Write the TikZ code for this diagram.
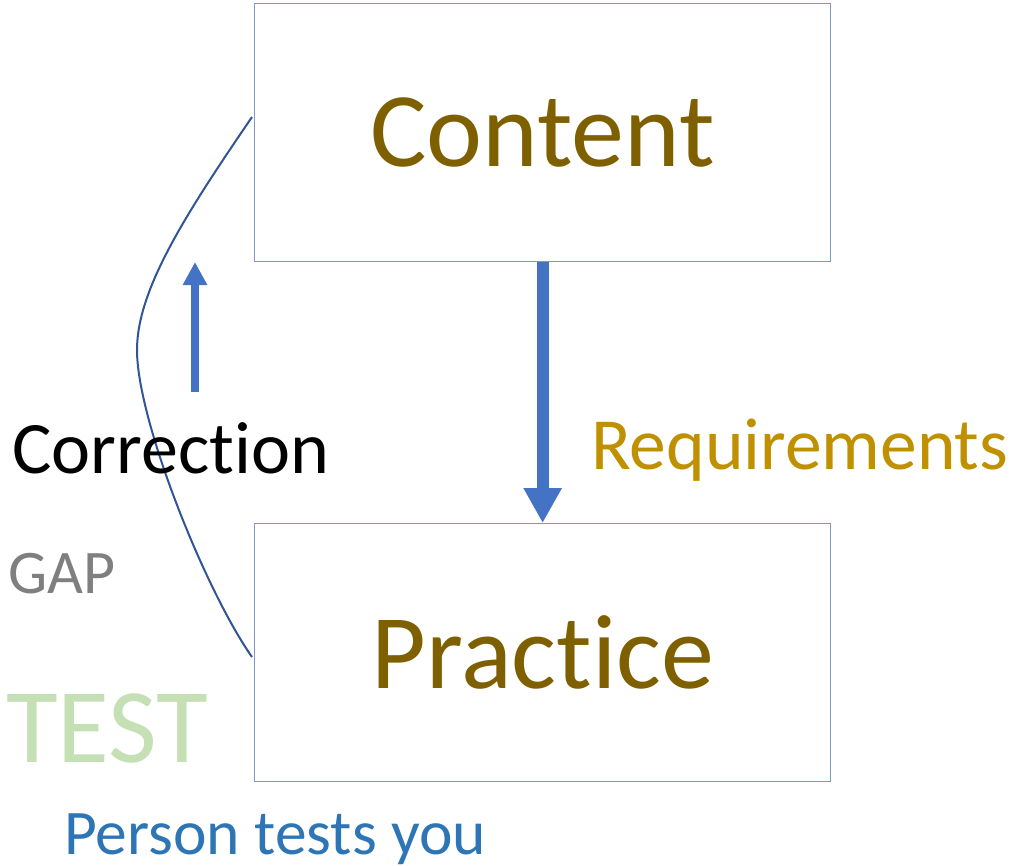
\documentclass[tikz,border=0pt]{standalone}
\usepackage{fontspec}
\setmainfont{Carlito}[Ligatures={NoCommon}]
\usetikzlibrary{arrows.meta}
\definecolor{boxline}{HTML}{7E97CA}
\definecolor{boxtext}{HTML}{7F6000}
\definecolor{reqtext}{HTML}{BF9000}
\definecolor{gaptext}{HTML}{7F7F7F}
\definecolor{testtext}{HTML}{C5E0B4}
\definecolor{persontext}{HTML}{2E75B6}
\definecolor{arrowblue}{HTML}{4472C4}
\definecolor{curveblue}{HTML}{2F5597}
\tikzset{
  bigbox/.style={draw=boxline, line width=1.3pt, minimum width=576pt, minimum height=258pt,
    anchor=north west, inner sep=0pt, text=boxtext, font=\fontsize{106}{110}\selectfont},
  label/.style={inner sep=0pt, anchor=base west},
  fatarrow/.style={draw=arrowblue, line width=12pt, -{Triangle[width=36pt,length=35pt]}},
  thinarrow/.style={draw=arrowblue, line width=8pt, -{Triangle[width=23pt,length=23pt]}},
  gapcurve/.style={draw=curveblue, line width=2pt}
}
\begin{document}
\begin{tikzpicture}[x=1pt,y=-1pt]
\useasboundingbox (0,0) rectangle (1012,865);
\node[bigbox] (content) at (254,3) {Content};
\node[bigbox] (practice) at (254,523) {Practice};
\draw[fatarrow] (content.south) -- (practice.north);
\coordinate (ub) at (195,392);
\coordinate (ut) at (195,262);
\draw[thinarrow] (ub) -- (ut);
\coordinate (cs) at (252,117);
\coordinate (cm) at (137,350);
\coordinate (ce) at (252,657);
\draw[gapcurve] (cs) .. controls (185,215) and (137,290) .. (cm)
  .. controls (137,420) and (205,590) .. (ce);
\node[label, font=\fontsize{74}{80}\selectfont, text=black] (corr) at (12,473) {Correction};
\node[label, font=\fontsize{73.5}{80}\selectfont, text=reqtext] (req) at (591,469) {Requirements};
\node[label, font=\fontsize{62}{70}\selectfont, text=gaptext] (gap) at (8,593) {GAP};
\node[label, font=\fontsize{106}{110}\selectfont, text=testtext] (test) at (6,762) {TEST};
\node[label, font=\fontsize{63.5}{70}\selectfont, text=persontext] (person) at (64,854) {Person tests you};
\end{tikzpicture}
\end{document}
